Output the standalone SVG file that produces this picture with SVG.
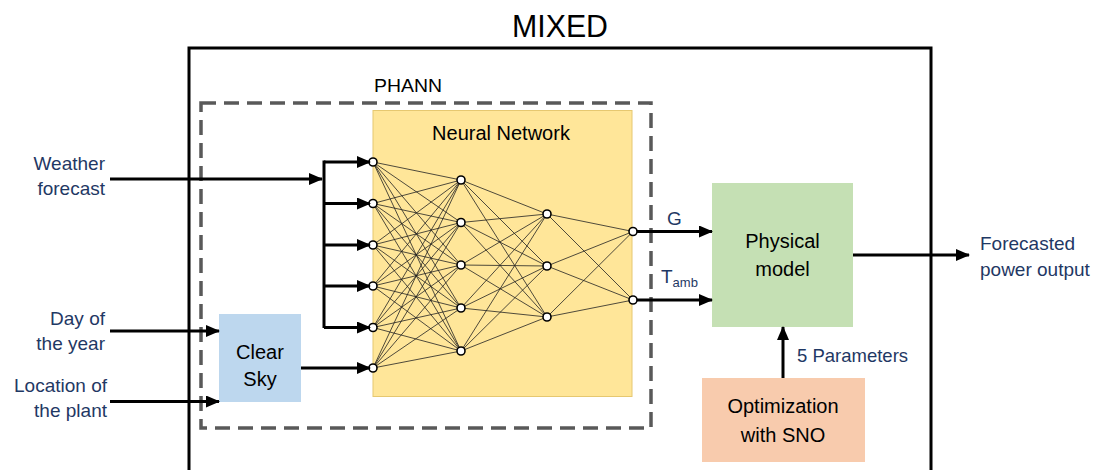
<svg xmlns="http://www.w3.org/2000/svg" width="1104" height="470" viewBox="0 0 1104 470">
  <defs>
    <marker id="arrow" markerUnits="userSpaceOnUse" markerWidth="14" markerHeight="12" refX="13" refY="6" orient="auto">
      <path d="M0,0 L14,6 L0,12 Z" fill="#000"/>
    </marker>
    <style>
      .txt { font-family: "Liberation Sans", Arial, sans-serif; }
      .navy { fill: #1F3864; font-size: 19px; }
      .blk { fill: #000; font-size: 20px; }
      .arrow { stroke: #000; stroke-width: 3; fill: none; marker-end: url(#arrow); }
      .bus { stroke: #000; stroke-width: 3; fill: none; }
      .syn { stroke: #222; stroke-width: 0.8; }
      .neuron { fill: #fff; stroke: #000; stroke-width: 1.6; }
    </style>
  </defs>
  <rect width="1104" height="470" fill="#fff"/>

  <!-- outer MIXED frame -->
  <g id="mixed">
    <rect x="189" y="48" width="742" height="440" fill="none" stroke="#000" stroke-width="3"/>
    <text class="txt" x="560" y="37" text-anchor="middle" font-size="32" textLength="96" lengthAdjust="spacingAndGlyphs">MIXED</text>
  </g>

  <!-- PHANN dashed frame -->
  <g id="phann">
    <rect x="201" y="103" width="450" height="325" fill="none" stroke="#595959" stroke-width="3.5" stroke-dasharray="15 8"/>
    <text class="txt" x="408" y="92" text-anchor="middle" font-size="18" textLength="68" lengthAdjust="spacingAndGlyphs">PHANN</text>
  </g>

  <!-- neural network box -->
  <g id="neural-network">
    <rect x="373" y="110.5" width="259" height="286" fill="#FFE699" stroke="#E6C870" stroke-width="1"/>
    <text class="txt blk" x="501" y="140" text-anchor="middle" font-size="20">Neural Network</text>
    <g id="synapses" class="syn">
      <!-- input layer to hidden layer 1 -->
      <path d="M373,162 L461,180 M373,162 L461,222.5 M373,162 L461,265 M373,162 L461,308 M373,162 L461,351
               M373,203.5 L461,180 M373,203.5 L461,222.5 M373,203.5 L461,265 M373,203.5 L461,308 M373,203.5 L461,351
               M373,245 L461,180 M373,245 L461,222.5 M373,245 L461,265 M373,245 L461,308 M373,245 L461,351
               M373,286 L461,180 M373,286 L461,222.5 M373,286 L461,265 M373,286 L461,308 M373,286 L461,351
               M373,327.5 L461,180 M373,327.5 L461,222.5 M373,327.5 L461,265 M373,327.5 L461,308 M373,327.5 L461,351
               M373,368 L461,180 M373,368 L461,222.5 M373,368 L461,265 M373,368 L461,308 M373,368 L461,351"/>
      <!-- hidden layer 1 to hidden layer 2 -->
      <path d="M461,180 L547,214 M461,180 L547,266 M461,180 L547,317
               M461,222.5 L547,214 M461,222.5 L547,266 M461,222.5 L547,317
               M461,265 L547,214 M461,265 L547,266 M461,265 L547,317
               M461,308 L547,214 M461,308 L547,266 M461,308 L547,317
               M461,351 L547,214 M461,351 L547,266 M461,351 L547,317"/>
      <!-- hidden layer 2 to outputs -->
      <path d="M547,214 L633,231.5 M547,214 L633,300
               M547,266 L633,231.5 M547,266 L633,300
               M547,317 L633,231.5 M547,317 L633,300"/>
    </g>
    <g id="neurons" class="neuron">
      <circle cx="373" cy="162" r="4"/>
      <circle cx="373" cy="203.5" r="4"/>
      <circle cx="373" cy="245" r="4"/>
      <circle cx="373" cy="286" r="4"/>
      <circle cx="373" cy="327.5" r="4"/>
      <circle cx="373" cy="368" r="4"/>
      <circle cx="461" cy="180" r="4"/>
      <circle cx="461" cy="222.5" r="4"/>
      <circle cx="461" cy="265" r="4"/>
      <circle cx="461" cy="308" r="4"/>
      <circle cx="461" cy="351" r="4"/>
      <circle cx="547" cy="214" r="4"/>
      <circle cx="547" cy="266" r="4"/>
      <circle cx="547" cy="317" r="4"/>
      <circle cx="633" cy="231.5" r="4"/>
      <circle cx="633" cy="300" r="4"/>
    </g>
  </g>

  <!-- clear sky model -->
  <g id="clear-sky">
    <rect x="219" y="314" width="82" height="88" fill="#BDD7EE"/>
    <text class="txt blk" x="260" y="359" text-anchor="middle">Clear</text>
    <text class="txt blk" x="260" y="386" text-anchor="middle">Sky</text>
  </g>

  <!-- physical model -->
  <g id="physical-model">
    <rect x="712" y="183" width="141" height="144" fill="#C5E0B4"/>
    <text class="txt blk" x="782.5" y="248" text-anchor="middle">Physical</text>
    <text class="txt blk" x="782.5" y="276" text-anchor="middle">model</text>
  </g>

  <!-- parameter optimisation -->
  <g id="optimization">
    <rect x="702" y="378" width="163" height="84" fill="#F8CBAD"/>
    <text class="txt blk" x="783" y="413" text-anchor="middle" font-size="21">Optimization</text>
    <text class="txt blk" x="783" y="442" text-anchor="middle" font-size="21">with SNO</text>
  </g>

  <!-- input / output labels -->
  <g id="labels" class="txt navy">
    <text x="105" y="170" text-anchor="end">Weather</text>
    <text x="105" y="195" text-anchor="end">forecast</text>
    <text x="105" y="325" text-anchor="end">Day of</text>
    <text x="105" y="350" text-anchor="end">the year</text>
    <text x="107" y="392" text-anchor="end">Location of</text>
    <text x="107" y="417" text-anchor="end">the plant</text>
    <text x="980" y="250">Forecasted</text>
    <text x="980" y="276">power output</text>
    <text x="797" y="362" font-size="18.5">5 Parameters</text>
    <text x="667" y="225">G</text>
    <text x="661" y="283">T<tspan font-size="13" dy="4">amb</tspan></text>
  </g>

  <!-- connectors -->
  <g id="connectors">
    <path class="bus" d="M324,160.5 L324,328"/>
    <path class="arrow" d="M110,179 L322,179"/>
    <path class="arrow" d="M324,162 L370,162"/>
    <path class="arrow" d="M324,203.5 L370,203.5"/>
    <path class="arrow" d="M324,245 L370,245"/>
    <path class="arrow" d="M324,286 L370,286"/>
    <path class="arrow" d="M324,327.5 L370,327.5"/>
    <path class="arrow" d="M301,368 L370,368"/>
    <path class="arrow" d="M110,331 L219,331"/>
    <path class="arrow" d="M110,401.5 L219,401.5"/>
    <path class="arrow" d="M637,231.5 L712,231.5"/>
    <path class="arrow" d="M637,300 L712,300"/>
    <path class="arrow" d="M853,255 L969,255"/>
    <path class="arrow" d="M783,378 L783,327"/>
  </g>
</svg>
